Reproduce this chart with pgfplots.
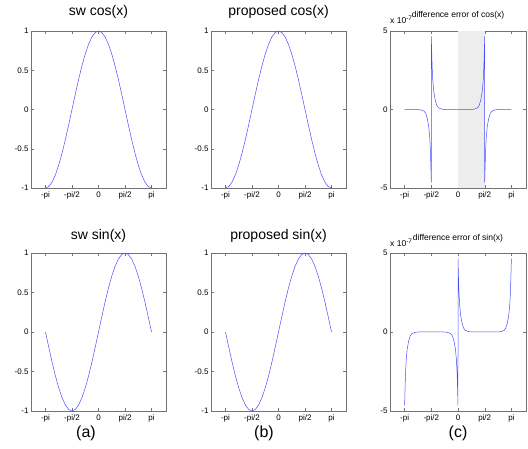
\documentclass[border=0pt]{standalone}
\usepackage{pgfplots}
\pgfplotsset{compat=1.18}
\usepackage{pgfplotstable}
\usepackage{fontspec}
\setmainfont{Liberation Sans}
\definecolor{mblue}{rgb}{0.3,0.3,1}
\definecolor{shade}{gray}{0.93}
\definecolor{axgray}{gray}{0.45}

\pgfplotstableread{
x c s
-3.14159 -1 0
-2.94524 -0.98079 -0.19509
-2.74889 -0.92388 -0.38268
-2.55254 -0.83147 -0.55557
-2.35619 -0.70711 -0.70711
-2.15984 -0.55557 -0.83147
-1.96350 -0.38268 -0.92388
-1.76715 -0.19509 -0.98079
-1.57080 0 -1
-1.37445 0.19509 -0.98079
-1.17810 0.38268 -0.92388
-0.98175 0.55557 -0.83147
-0.78540 0.70711 -0.70711
-0.58905 0.83147 -0.55557
-0.39270 0.92388 -0.38268
-0.19635 0.98079 -0.19509
0 1 0
0.19635 0.98079 0.19509
0.39270 0.92388 0.38268
0.58905 0.83147 0.55557
0.78540 0.70711 0.70711
0.98175 0.55557 0.83147
1.17810 0.38268 0.92388
1.37445 0.19509 0.98079
1.57080 0 1
1.76715 -0.19509 0.98079
1.96350 -0.38268 0.92388
2.15984 -0.55557 0.83147
2.35619 -0.70711 0.70711
2.55254 -0.83147 0.55557
2.74889 -0.92388 0.38268
2.94524 -0.98079 0.19509
3.14159 -1 0
}\trig

\pgfplotstableread{
x e
-3.14159 0
-2.40 0
-2.20 -0.02
-2.00 -0.10
-1.90 -0.25
-1.80 -0.60
-1.72 -1.10
-1.66 -1.80
-1.62 -2.70
-1.59 -3.80
-1.5708 -4.65
-1.5700 4.65
-1.55 3.80
-1.52 2.70
-1.48 1.80
-1.42 1.10
-1.34 0.60
-1.24 0.25
-1.14 0.10
-0.94 0.02
-0.74 0
0.74 0
0.94 0.02
1.14 0.10
1.24 0.25
1.34 0.60
1.42 1.10
1.48 1.80
1.52 2.70
1.55 3.80
1.5700 4.65
1.5708 -4.65
1.59 -3.80
1.62 -2.70
1.66 -1.80
1.72 -1.10
1.80 -0.60
1.90 -0.25
2.00 -0.10
2.20 -0.02
2.40 0
3.14159 0
}\cerr

\pgfplotstableread{
x e
-3.14159 -4.65
-3.12 -3.80
-3.09 -2.70
-3.05 -1.80
-2.99 -1.10
-2.91 -0.60
-2.81 -0.25
-2.71 -0.10
-2.51 -0.02
-2.31 0
-0.83 0
-0.63 -0.02
-0.43 -0.10
-0.33 -0.25
-0.23 -0.60
-0.15 -1.10
-0.09 -1.80
-0.05 -2.70
-0.02 -3.80
-0.0005 -4.65
0.0005 4.65
0.02 3.80
0.05 2.70
0.09 1.80
0.15 1.10
0.23 0.60
0.33 0.25
0.43 0.10
0.63 0.02
0.83 0
2.31 0
2.51 0.02
2.71 0.10
2.81 0.25
2.91 0.60
2.99 1.10
3.05 1.80
3.09 2.70
3.12 3.80
3.14159 4.65
}\serr

\pgfplotsset{
  mat/.style={
    scale only axis, width=135pt, height=157pt, anchor=south west,
    xmin=-4, xmax=4,
    xtick={-3.14159,-1.5708,0,1.5708,3.14159},
    xticklabels={-pi,-pi/2,0,pi/2,pi},
    tick align=inside, major tick length=3pt,
    axis line style={axgray, line width=0.6pt},
    every tick/.style={axgray, line width=0.4pt},
    tick label style={font=\fontsize{8}{9}\selectfont},
    yticklabel style={xshift=1pt},
    /pgf/number format/assume math mode=true,
    scaled y ticks=false,
    clip=false,
  },
  unit/.style={mat, ymin=-1, ymax=1, ytick={-1,-0.5,0,0.5,1}, yticklabels={-1,-0.5,0,0.5,1}},
  err/.style={mat, width=136pt, ymin=-5, ymax=5, ytick={-5,0,5}, yticklabels={-5,0,5}},
  ttl/.style={title style={font=\fontsize{14}{16}\selectfont, at={(0.5,1)}, anchor=base, yshift=#1}},
  ettl/.style={title style={font=\fontsize{8.5}{9}\selectfont, at={(0.5,1)}, anchor=base, yshift=#1}},
  curve/.style={mblue, line width=0.5pt},
}

\begin{document}
\begin{tikzpicture}[x=1pt,y=1pt]
\useasboundingbox (0,0) rectangle (528,448);

% top row
\begin{axis}[unit, at={(31pt,260pt)}, ttl=10pt, title={sw cos(x)}]
\addplot[curve] table[x=x,y=c]{\trig};
\end{axis}
\begin{axis}[unit, at={(211pt,260pt)}, ttl=10pt, title={proposed cos(x)}]
\addplot[curve] table[x=x,y=c]{\trig};
\end{axis}
\begin{axis}[err, at={(390pt,260pt)}, ettl=8pt, title={difference error of cos(x)}]
\addplot[fill=shade, draw=none] coordinates {(0,-5) (1.5708,-5) (1.5708,5) (0,5)} -- cycle;
\addplot[curve] table[x=x,y=e]{\cerr};
\node[anchor=base west, font=\fontsize{8.5}{9}\selectfont, inner sep=0pt] at (rel axis cs:0,1) [yshift=8pt] {x 10\raisebox{3pt}{\fontsize{6.5}{7}\selectfont -7}};
\end{axis}

% bottom row
\begin{axis}[unit, at={(31pt,37pt)}, height=158pt, ttl=8pt, title={sw sin(x)}]
\addplot[curve] table[x=x,y=s]{\trig};
\end{axis}
\begin{axis}[unit, at={(211pt,37pt)}, height=158pt, ttl=8pt, title={proposed sin(x)}]
\addplot[curve] table[x=x,y=s]{\trig};
\end{axis}
\begin{axis}[err, at={(390pt,37pt)}, height=158pt, ettl=6pt, title={difference error of sin(x)}]
\addplot[curve] table[x=x,y=e]{\serr};
\node[anchor=base west, font=\fontsize{8.5}{9}\selectfont, inner sep=0pt] at (rel axis cs:0,1) [yshift=6pt] {x 10\raisebox{3pt}{\fontsize{6.5}{7}\selectfont -7}};
\end{axis}

\node[anchor=base, font=\fontsize{16}{18}\selectfont] at (86,11) {(a)};
\node[anchor=base, font=\fontsize{16}{18}\selectfont] at (264,11) {(b)};
\node[anchor=base, font=\fontsize{16}{18}\selectfont] at (458,11) {(c)};
\end{tikzpicture}
\end{document}
